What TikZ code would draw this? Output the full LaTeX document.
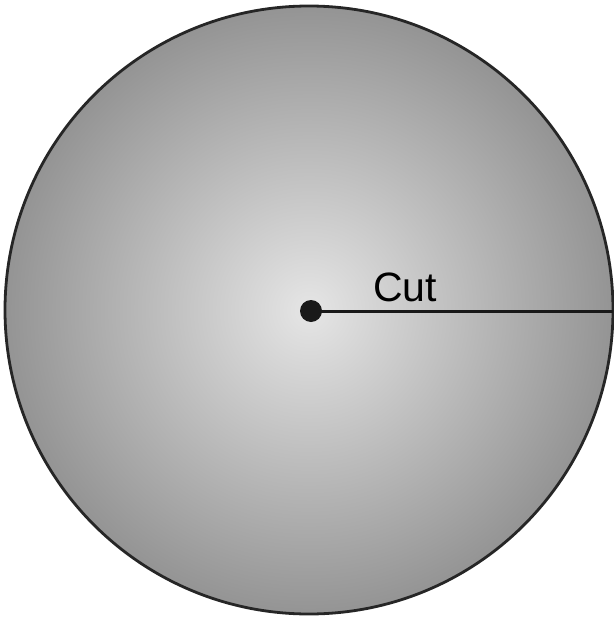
\documentclass[tikz,border=0pt]{standalone}
\usepackage{fontspec}
\setmainfont{Liberation Sans}
\begin{document}
\begin{tikzpicture}[x=1pt,y=-1pt,
  ball/.style={draw=black!85,line width=2.8pt,inner color=black!10,outer color=black!42},
  dotstyle/.style={circle,fill=black!90,inner sep=0pt,minimum size=22pt},
  cutline/.style={draw=black!90,line width=3pt},
  lbl/.style={font=\fontsize{41}{41}\selectfont,inner sep=0pt,anchor=base west}]
\useasboundingbox (0,0) rectangle (613,618);
\path[ball] (309,310) circle (304);
\node[dotstyle] (c) at (311,311) {};
\coordinate (e) at (613,311);
\draw[cutline] (c.center) -- (e);
\node[lbl] (t) at (373,301) {Cut};
\end{tikzpicture}
\end{document}
